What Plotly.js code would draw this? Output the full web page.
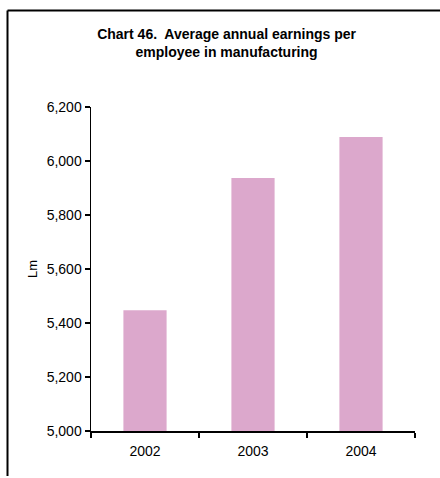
<!DOCTYPE html>
<html>
<head>
<meta charset="utf-8">
<script src="https://cdn.plot.ly/plotly-3.0.1.min.js"></script>
<style>html,body{margin:0;padding:0;background:#fff;}#chart{width:440px;height:478px;}</style>
</head>
<body>
<div id="chart"></div>
<script>
const years = ['2002', '2003', '2004'];
const earnings = [5447, 5937, 6089];
const yTicks = [5000, 5200, 5400, 5600, 5800, 6000, 6200];
const titleText = '<b>Chart 46.&nbsp; Average annual earnings per<br>employee in manufacturing</b>';
const yTitle = 'Lm';

const trace = {
  type: 'bar',
  x: years,
  y: earnings,
  marker: {color: '#dca8cc'},
  hoverinfo: 'x+y'
};

const font = 'Arial, "Liberation Sans", Helvetica, sans-serif';

const layout = {
  width: 440,
  height: 478,
  margin: {l: 91, r: 25, t: 107, b: 47, pad: 0},
  paper_bgcolor: '#ffffff',
  plot_bgcolor: '#ffffff',
  showlegend: false,
  bargap: 0.6,
  font: {family: font, color: '#000', size: 12},
  title: {
    text: titleText,
    font: {family: font, size: 14, color: '#000'},
    xref: 'container', x: 0.515, xanchor: 'center',
    yref: 'container', y: 1 - 39/478, yanchor: 'top'
  },
  xaxis: {
    type: 'category',
    showline: true, linecolor: '#000', linewidth: 1.5,
    ticks: 'outside', tickson: 'boundaries', ticklen: 5, tickwidth: 1.5, tickcolor: '#000',
    ticklabelstandoff: 7,
    showgrid: false, zeroline: false,
    tickfont: {family: font, size: 14, color: '#000'},
    fixedrange: true
  },
  yaxis: {
    range: [5000, 6200],
    tickvals: yTicks,
    tickformat: ',d',
    showline: true, linecolor: '#000', linewidth: 1.5,
    ticks: 'outside', ticklen: 5, tickwidth: 1.5, tickcolor: '#000',
    showgrid: false, zeroline: false,
    tickfont: {family: font, size: 14, color: '#000'},
    title: {text: yTitle, font: {family: font, size: 13, color: '#000'}, standoff: 6},
    fixedrange: true
  },
  shapes: [
    {type: 'line', xref: 'paper', yref: 'paper', x0: -0.2577, x1: 1.09, y0: 1.2978, y1: 1.2978, line: {color: '#000', width: 2}},
    {type: 'line', xref: 'paper', yref: 'paper', x0: -0.2577, x1: -0.2577, y0: 1.2978, y1: -0.139, line: {color: '#000', width: 2}}
  ]
};

Plotly.newPlot('chart', [trace], layout, {displayModeBar: false, staticPlot: true});
</script>
</body>
</html>
